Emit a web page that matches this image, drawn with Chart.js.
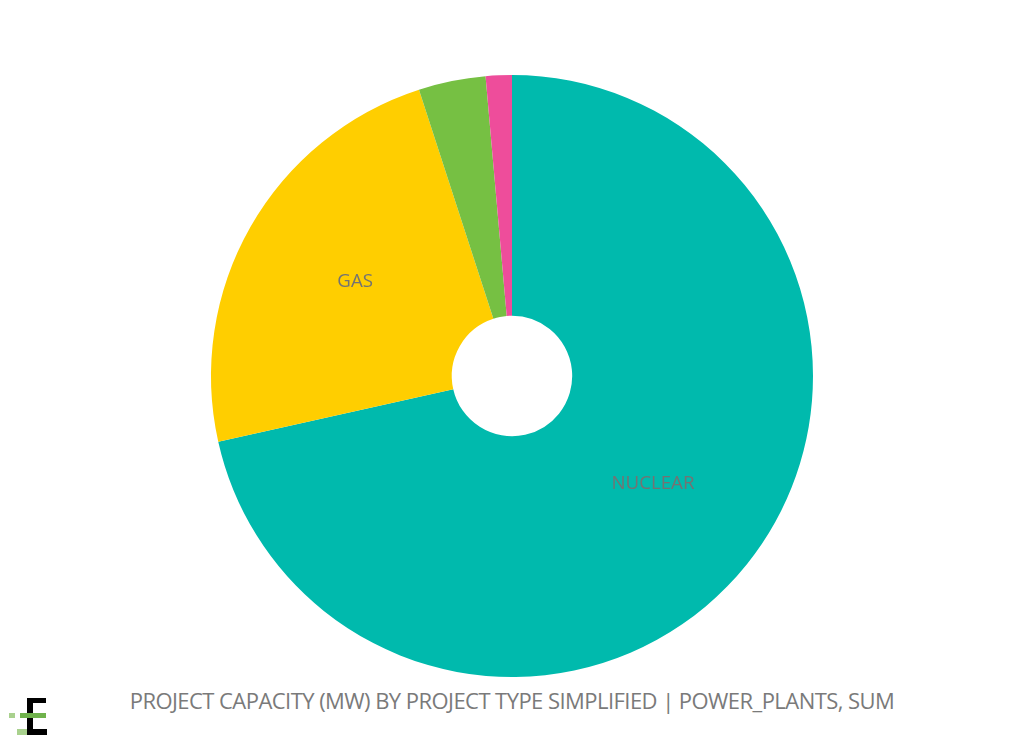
<!DOCTYPE html>
<html>
<head>
<meta charset="utf-8">
<script src="https://cdn.jsdelivr.net/npm/chart.js@4/dist/chart.umd.min.js"></script>
<style>
  html, body { margin: 0; padding: 0; background: #fff; width: 1024px; height: 749px; overflow: hidden; }
  #wrap { position: absolute; left: 0; top: 75px; width: 1024px; height: 602px; }
  #title { position: absolute; left: 0; width: 1024px; top: 685px; line-height: 30px; text-align: center; white-space: nowrap;
    font-family: "Open Sans", "Noto Sans", sans-serif; font-size: 22px; color: #7a7a7a; letter-spacing: -0.55px; }
  .lg { position: absolute; }
</style>
</head>
<body>
<div id="wrap"><canvas id="c" width="1024" height="602"></canvas></div>
<div id="title">PROJECT CAPACITY (MW) BY PROJECT TYPE SIMPLIFIED | POWER_PLANTS, SUM</div>
<div class="lg" style="left:27px;top:698px;width:19px;height:5px;background:#000"></div>
<div class="lg" style="left:27px;top:698px;width:6px;height:37px;background:#000"></div>
<div class="lg" style="left:32px;top:729px;width:15px;height:6px;background:#000"></div>
<div class="lg" style="left:20px;top:713px;width:26px;height:5px;background:#6fb24b"></div>
<div class="lg" style="left:9px;top:713px;width:6px;height:5px;background:#a9d18e"></div>
<div class="lg" style="left:17px;top:729px;width:10px;height:6px;background:#a9d18e"></div>
<script>
const categories = ["NUCLEAR", "GAS", "RENEWABLE", "OTHER"];
const capacity = [71.5, 23.5, 3.6, 1.4];
const sliceColors = ["#00BAAD", "#FFCE00", "#76C043", "#EE4D9B"];
const shownLabels = ["NUCLEAR", "GAS"];

const sliceLabels = {
  id: "sliceLabels",
  afterDatasetsDraw(chart) {
    const ctx = chart.ctx;
    const meta = chart.getDatasetMeta(0);
    ctx.save();
    ctx.font = '18.7px "Open Sans", "Noto Sans", sans-serif';
    ctx.fillStyle = "#737373";
    ctx.textAlign = "center";
    ctx.textBaseline = "middle";
    meta.data.forEach((arc, i) => {
      if (!shownLabels.includes(categories[i])) return;
      const p = arc.tooltipPosition();
      ctx.fillText(categories[i], p.x, p.y - 5);
    });
    ctx.restore();
  }
};

new Chart(document.getElementById("c"), {
  type: "doughnut",
  data: {
    labels: categories,
    datasets: [{ data: capacity, backgroundColor: sliceColors, borderWidth: 0 }]
  },
  options: {
    responsive: false,
    animation: false,
    cutout: "20%",
    layout: { padding: 0 },
    plugins: { legend: { display: false }, tooltip: { enabled: false }, title: { display: false } }
  },
  plugins: [sliceLabels]
});
</script>
</body>
</html>
